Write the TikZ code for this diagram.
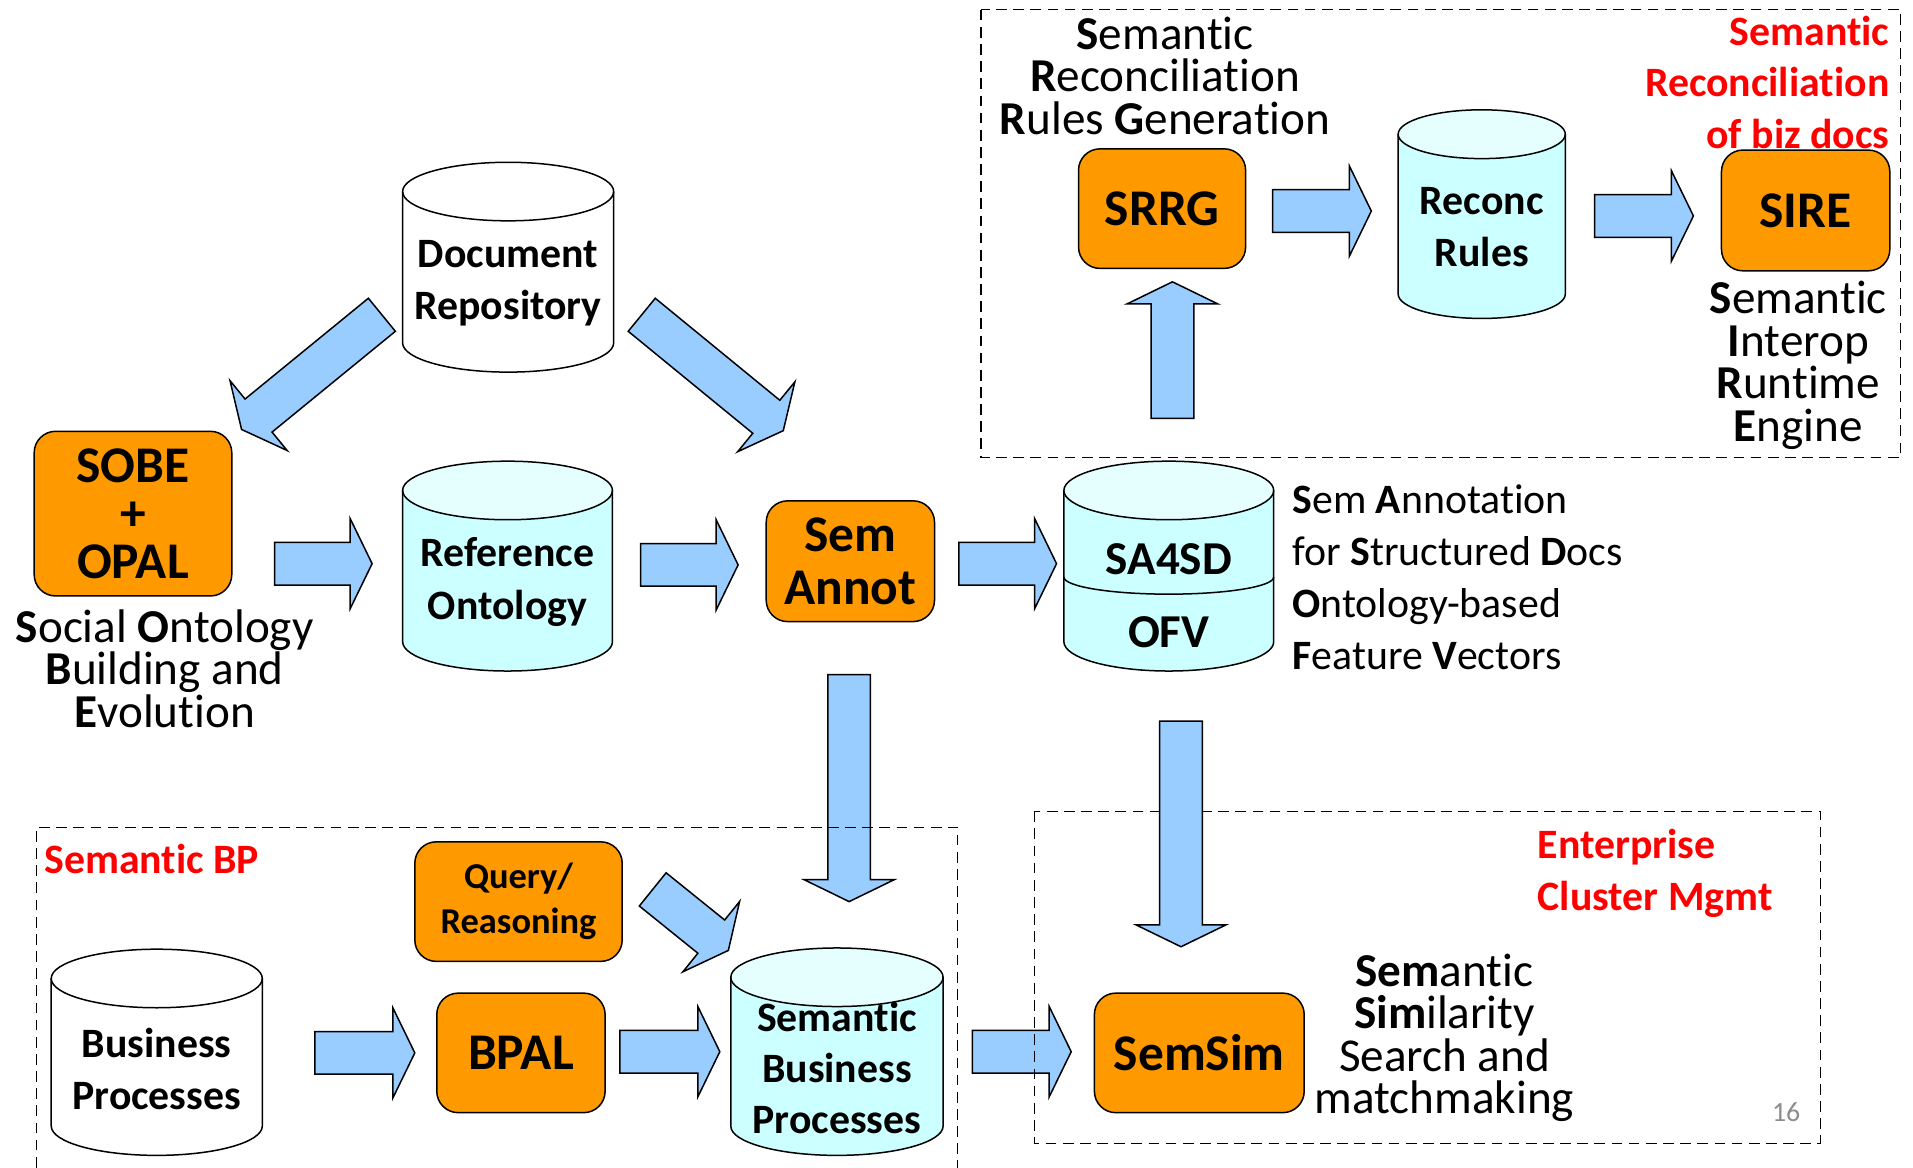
\documentclass[tikz,border=0pt]{standalone}
\usepackage{fontspec}
\setmainfont{Carlito}[Ligatures=NoCommon]
\usepackage{tikz}
\usetikzlibrary{positioning,calc}

\definecolor{procorange}{RGB}{255,153,0}
\definecolor{cylcyan}{RGB}{204,255,255}
\definecolor{arrowblue}{RGB}{153,204,255}
\definecolor{notered}{RGB}{255,0,0}
\definecolor{pagegray}{RGB}{140,140,140}

\newcommand{\txtsize}[2]{\fontsize{#1}{#2}\selectfont\lineskiplimit=-40pt\relax}

% drum: x, top centre y, bottom centre y, x radius, y radius, fill
\newcommand{\dbdrum}[6]{%
	\fill[#6] (#1-#4,#2) rectangle (#1+#4,#3);
	\fill[#6] (#1,#3) ellipse[x radius=#4, y radius=#5];
	\fill[#6!50!white] (#1,#2) ellipse[x radius=#4, y radius=#5];
	\draw[drumline] (#1-#4,#2) -- (#1-#4,#3) arc[start angle=180, end angle=0, x radius=#4, y radius=#5] -- (#1+#4,#2);
	\draw[drumline] (#1,#2) ellipse[x radius=#4, y radius=#5];
}

% fat arrow from tail centre to tip
\newcommand{\fatarrow}[2]{%
	\coordinate (fa1) at (#1);
	\coordinate (fa2) at (#2);
	\coordinate (fab) at ($(fa2)!0.36cm!(fa1)$);
	\draw[blockarrow] ($(fa1)!0.35cm!90:(fa2)$) -- ($(fab)!0.35cm!-90:(fa1)$) -- ($(fab)!0.74cm!-90:(fa1)$)
		-- (fa2) -- ($(fab)!0.74cm!90:(fa1)$) -- ($(fab)!0.35cm!90:(fa1)$) -- ($(fa1)!0.35cm!-90:(fa2)$) -- cycle;
}

\begin{document}
\begin{tikzpicture}[x=0.02cm, y=-0.02cm,
	procbox/.style={rectangle, rounded corners=10pt, draw, line width=0.7pt, fill=procorange, inner sep=0, align=center, font=\bfseries\txtsize{24}{24}},
	drumline/.style={draw, line width=0.7pt},
	drumtext/.style={inner sep=0, align=center, font=\bfseries\txtsize{19.5}{24.4}},
	blockarrow/.style={draw, fill=arrowblue, line width=0.7pt, line join=miter},
	note/.style={inner sep=0, align=center, font=\txtsize{22}{19.8}},
	rednote/.style={inner sep=0, text=notered, font=\bfseries\txtsize{19.5}{24}},
	groupbox/.style={draw, dash pattern=on 5pt off 3pt, line width=0.6pt}]
	\useasboundingbox (0,0) rectangle (1568,957);

	\fatarrow{797,862}{878,862}

	% groups
	\draw[groupbox] (804,8) rectangle (1558,375);
	\draw[groupbox] (848,665) rectangle (1492,937);

	% drums
	\dbdrum{416.5}{157}{281}{86.5}{24}{white}
	\node[drumtext] (docrepo) at (416.5,232) {Document\\Repository};
	\dbdrum{416}{402}{526}{86}{24}{cylcyan}
	\node[drumtext] (refonto) at (416,477) {Reference\\Ontology};
	\dbdrum{1214.5}{110}{241}{68.5}{20}{cylcyan}
	\node[drumtext] (reconc) at (1214.5,186) {Reconc\\Rules};
	\dbdrum{958}{402}{526}{86}{24}{cylcyan}
	\draw[drumline] (872,473) arc[start angle=180, end angle=0, x radius=86, y radius=14];
	\node[drumtext, font=\bfseries\txtsize{22}{26}] (sa4sd) at (958,458) {SA4SD};
	\node[drumtext, font=\bfseries\txtsize{22}{26}] (ofv) at (958,518) {OFV};
	\dbdrum{128.5}{802}{923}{86.5}{24}{white}
	\node[drumtext] (busproc) at (128.5,876) {Business\\Processes};
	\dbdrum{686}{801}{923}{87}{24}{cylcyan}
	\node[drumtext, font=\bfseries\txtsize{19.5}{23.8}] (sembp) at (686,875) {Semantic\\Business\\Processes};

	% boxes
	\node[procbox, minimum width=3.24cm, minimum height=2.7cm, font=\bfseries\txtsize{24}{22.4}] (sobe) at (109,421) {SOBE\\+\\OPAL};
	\node[procbox, minimum width=2.76cm, minimum height=1.98cm, font=\bfseries\txtsize{24}{24.4}] (semannot) at (697,460) {Sem\\Annot};
	\node[procbox, minimum width=2.74cm, minimum height=1.96cm] (srrg) at (952.5,171) {SRRG};
	\node[procbox, minimum width=2.76cm, minimum height=1.98cm] (sire) at (1480,172.5) {SIRE};
	\node[procbox, minimum width=3.4cm, minimum height=1.96cm, font=\bfseries\txtsize{17}{21}] (query) at (425,739) {Query/\\Reasoning};
	\node[procbox, minimum width=2.76cm, minimum height=1.96cm] (bpal) at (427,863) {BPAL};
	\node[procbox, minimum width=3.44cm, minimum height=1.96cm] (semsim) at (983,863) {SemSim};

	% texts
	\node[note] (srrgnote) at (955,62) {\textbf{S}emantic\\\textbf{R}econciliation\\\textbf{R}ules \textbf{G}eneration};
	\node[rednote, anchor=east, align=right] (sirehead) at (1549,67.5) {Semantic\\Reconciliation\\of biz docs};
	\node[note] (sirenote) at (1474,299.5) {\textbf{S}emantic\\\textbf{I}nterop\\\textbf{R}untime\\\textbf{E}ngine};
	\node[note] (sobenote) at (135,548) {\textbf{S}ocial \textbf{O}ntology\\\textbf{B}uilding and\\\textbf{E}volution};
	\node[note, anchor=west, align=left, font=\txtsize{19.5}{24.2}] (sa4sdnote) at (1059,473) {\textbf{S}em \textbf{A}nnotation\\for \textbf{S}tructured \textbf{D}ocs\\\textbf{O}ntology-based\\\textbf{F}eature \textbf{V}ectors};
	\node[rednote, anchor=west, align=left] (bphead) at (36,704) {Semantic BP};
	\node[rednote, anchor=west, align=left] (clusterhead) at (1260,716) {Enterprise\\Cluster Mgmt};
	\node[note] (semsimnote) at (1184,850.5) {\textbf{Sem}antic\\\textbf{Sim}ilarity\\Search and\\matchmaking};
	\node[inner sep=0, text=pagegray, font=\txtsize{13}{13}] (pagenum) at (1464,912) {16};

	% arrows
	\fatarrow{313,258}{198,352}
	\fatarrow{526,258}{642,353}
	\fatarrow{225,462}{305,462}
	\fatarrow{525,463}{605,463}
	\fatarrow{786,462}{866,462}
	\fatarrow{961,343}{961,231}
	\fatarrow{1043,173}{1124,173}
	\fatarrow{1307,177}{1388,177}
	\fatarrow{696,553}{696,739}
	\fatarrow{968,591}{968,776}
	\fatarrow{535,729}{597,779}
	\fatarrow{258,863}{340,863}
	\fatarrow{508,862}{590,862}

	\draw[groupbox] (30,957) -- (30,678) -- (785,678) -- (785,957);
\end{tikzpicture}
\end{document}
